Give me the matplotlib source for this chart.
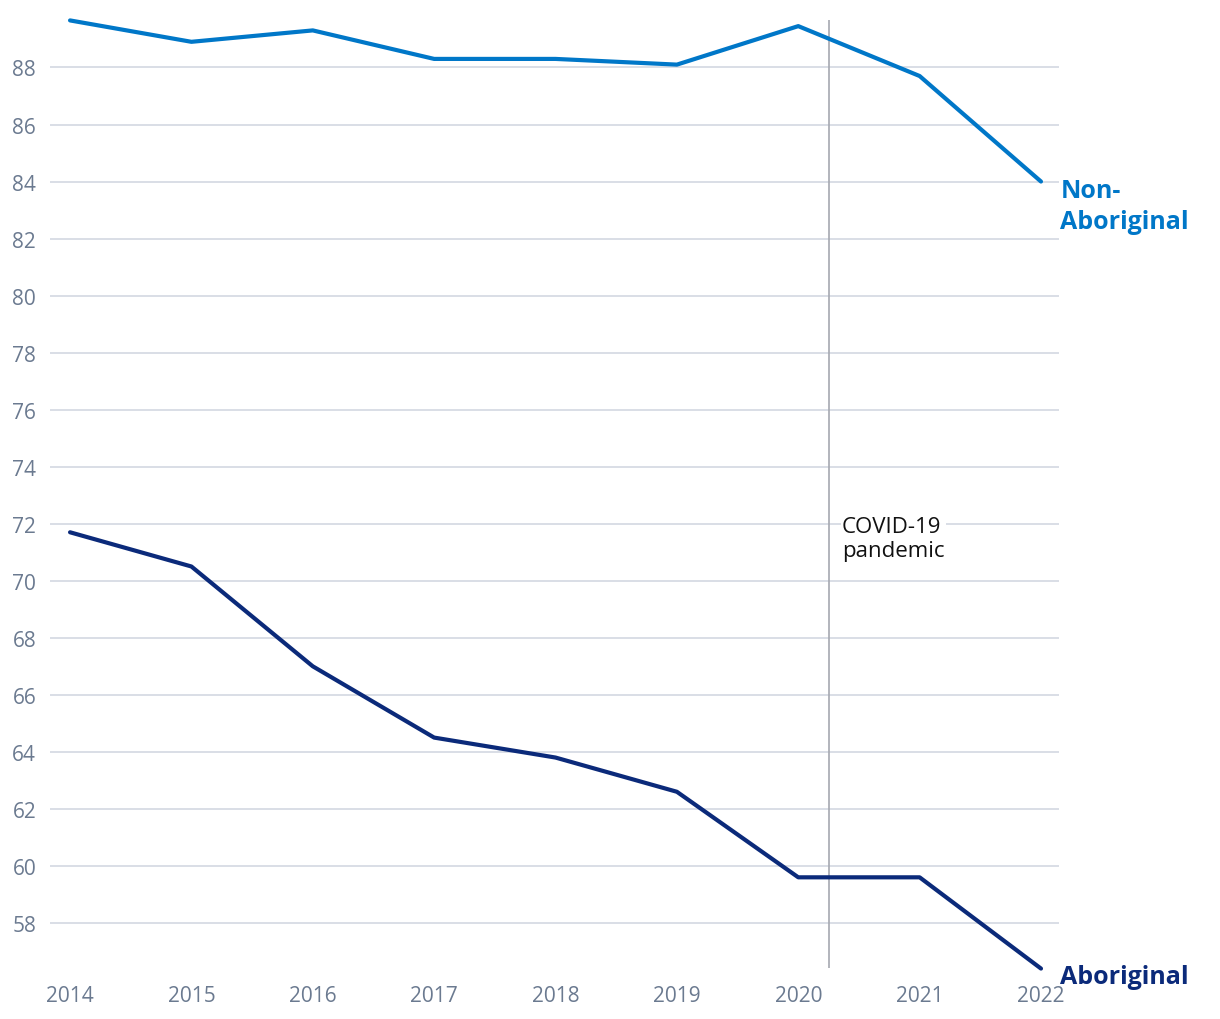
import matplotlib.pyplot as plt

years = [2014, 2015, 2016, 2017, 2018, 2019, 2020, 2021, 2022]
non_aboriginal = [89.65, 88.9, 89.3, 88.3, 88.3, 88.1, 89.45, 87.7, 84.0]
aboriginal = [71.7, 70.5, 67.0, 64.5, 63.8, 62.6, 59.6, 59.6, 56.4]
yticks = list(range(58, 90, 2))
covid_x = 2020.25

plt.rcParams['font.family'] = ['Open Sans', 'DejaVu Sans']

fig = plt.figure(figsize=(12.2, 10.2), dpi=100)
ax = fig.add_axes([0.041, 0.05, 0.827, 0.929])

for y in yticks:
    ax.axhline(y, color='#d3d8e2', lw=1.2, zorder=1)

ax.axvline(covid_x, color='#a6a8b0', lw=1.2, zorder=2)
ax.text(covid_x + 0.11, 71.48, 'COVID-19\npandemic', fontsize=16, color='#111111',
        va='center', ha='left', linespacing=1.2, zorder=3,
        bbox=dict(facecolor='white', edgecolor='none', pad=1))

ax.plot(years, non_aboriginal, color='#0077c8', lw=3, zorder=4,
        solid_capstyle='round', clip_on=False)
ax.plot(years, aboriginal, color='#0b2a7a', lw=3, zorder=4,
        solid_capstyle='round', clip_on=False)

ax.text(2022.16, 83.15, 'Non-\nAboriginal', color='#0077c8', fontsize=18,
        fontweight='bold', va='center', ha='left', linespacing=1.3, clip_on=False)
ax.text(2022.16, 56.12, 'Aboriginal', color='#0b2a7a', fontsize=18,
        fontweight='bold', va='center', ha='left', clip_on=False)

ax.set_xlim(2013.835, 2022.148)
ax.set_ylim(56.42, 89.65)
ax.set_yticks(yticks)
ax.set_xticks(years)
ax.tick_params(length=0, labelsize=15, labelcolor='#6b7a90')
ax.tick_params(axis='y', pad=10)
ax.tick_params(axis='x', pad=12)
for s in ax.spines.values():
    s.set_visible(False)

fig.savefig('out.png', dpi=100, facecolor='white')
